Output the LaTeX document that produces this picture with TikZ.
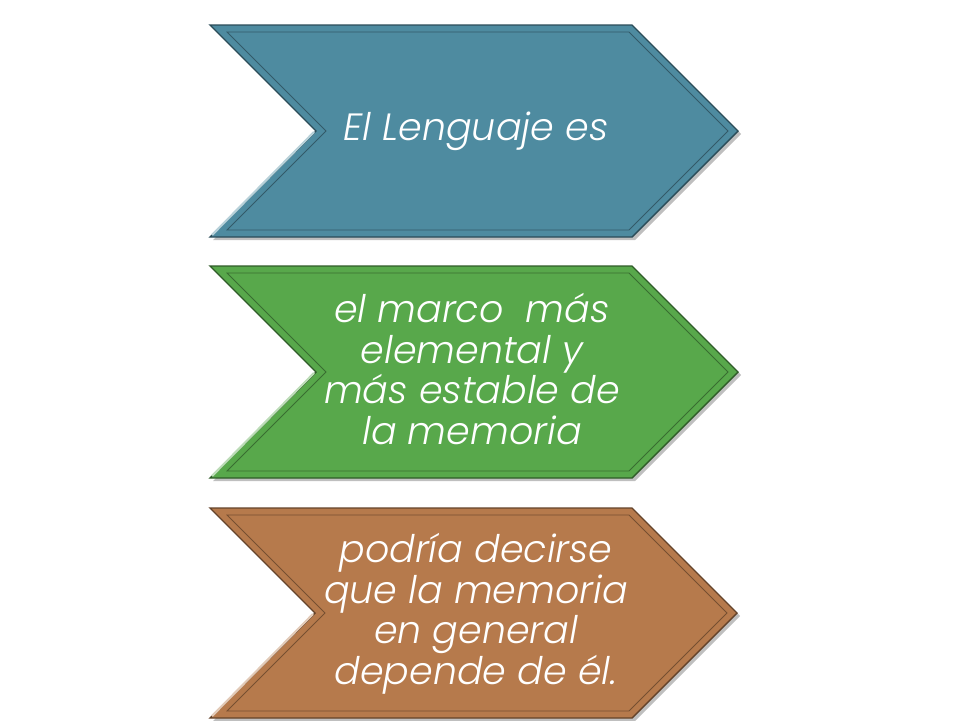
\documentclass[tikz,border=0pt]{standalone}
\usepackage{fontspec}
\newfontfamily\gothic{Poppins}[UprightFont=* Light, ItalicFont=* Light Italic]
\definecolor{cblue}{HTML}{4E8BA0}
\definecolor{cgreen}{HTML}{58A84B}
\definecolor{cbrown}{HTML}{B67A4C}
\tikzset{
  chevtext/.style={text=white, align=center, font=\gothic\itshape\fontsize{38}{40.5}\selectfont, inner sep=0pt},
}
\newcommand\chevshape[3]{%
  \pgfmathsetmacro\chevM{(#1+#2)/2}%
  \pgfmathsetmacro\chevH{(#2-#1)/2}%
  \fill[black, opacity=0.25] (213,#1+3) -- (635,#1+3) -- (635+\chevH,\chevM+3) -- (635,#2+3) -- (213,#2+3) -- (213+\chevH,\chevM+3) -- cycle;
  \fill[#3] (210,#1) -- (632,#1) -- (632+\chevH,\chevM) -- (632,#2) -- (210,#2) -- (210+\chevH,\chevM) -- cycle;
  \draw[#3!55!black, line width=1.4pt, line join=miter] (210,#1) -- (632,#1) -- (632+\chevH,\chevM) -- (632,#2) -- (210,#2) -- (210+\chevH,\chevM) -- cycle;
  \draw[#3!40!white, line width=2.2pt] (212,#2-2) -- (208+\chevH,\chevM+1);
  \draw[#3!65!black, line width=0.8pt, line join=miter] (227,#1+7) -- (629,#1+7) -- (622+\chevH,\chevM) -- (629,#2-7) -- (227,#2-7) -- (220+\chevH,\chevM) -- cycle;
}
\begin{document}
\begin{tikzpicture}[x=1pt,y=-1pt]
\useasboundingbox (0,0) rectangle (960,720);
\fill[white] (0,0) rectangle (960,720);
\chevshape{25}{237}{cblue}
\chevshape{266}{478}{cgreen}
\chevshape{508}{718}{cbrown}
\node[chevtext] (t1) at (476,131) {El Lenguaje es};
\node[chevtext] (t2) at (472,369) {el marco\ \ más\\elemental y\\más estable de\\la memoria};
\node[chevtext] (t3) at (476,614) {podría decirse\\que la memoria\\en general\\depende de él.};
\end{tikzpicture}
\end{document}
